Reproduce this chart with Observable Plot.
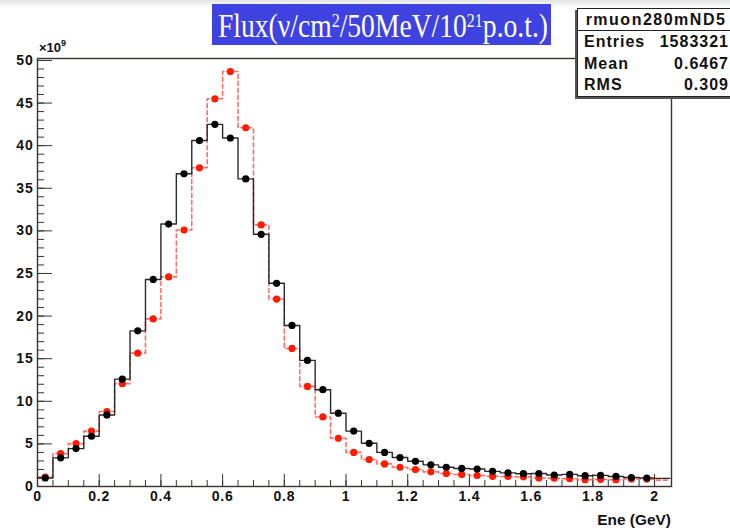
<!DOCTYPE html>
<html><head><meta charset="utf-8">
<script src="https://cdn.jsdelivr.net/npm/d3@7"></script>
<script src="https://cdn.jsdelivr.net/npm/@observablehq/plot@0.6"></script>
<style>
body{margin:0;background:#fff;}
#wrap{position:relative;width:730px;height:531px;overflow:hidden;font-family:"Liberation Sans",Arial,sans-serif;background:#fff;}
#topband{position:absolute;left:0;top:0;width:730px;height:7px;background:linear-gradient(#e2e2e2,#fff);}
#plot{position:absolute;left:0;top:0;}
#title{position:absolute;left:212px;top:4px;width:339px;height:41px;background:#3d42e0;color:#fff;font-family:"Liberation Serif","DejaVu Serif",serif;font-size:33px;line-height:45px;white-space:nowrap;overflow:visible;}
#title span{display:inline-block;transform-origin:left center;margin-left:6px;line-height:45px;height:41px;}
#title sup{font-size:0.58em;vertical-align:0.5em;line-height:0;}
#stats{position:absolute;left:577px;top:8px;width:156px;height:87px;background:#fff;border:1px solid #222;box-shadow:-2px 2px 0 #555;font-weight:bold;font-size:16px;color:#111;letter-spacing:1px;}
#stats .hdr{height:21px;border-bottom:1px solid #222;text-align:center;line-height:22px;letter-spacing:1.5px;}
#stats .row{height:21.5px;display:flex;justify-content:space-between;padding:0 5px 0 6px;line-height:21.5px;}
#expo{position:absolute;left:39px;top:40px;font-size:13px;font-weight:bold;color:#111;}
#expo sup{font-size:9px;vertical-align:6px;line-height:0;}
#xlab{position:absolute;right:59px;top:512px;font-size:14px;font-weight:bold;color:#111;transform:scaleX(1.1);transform-origin:right center;}
</style>
</head><body>
<div id="wrap">
  <div id="topband"></div>
  <div id="plot"></div>
  <div id="expo">×10<sup>9</sup></div>
  <div id="xlab">Ene (GeV)</div>
  <div id="title"><span>Flux(ν/cm<sup>2</sup>/50MeV/10<sup>21</sup>p.o.t.)</span></div>
  <div id="stats">
    <div class="hdr">rmuon280mND5</div>
    <div class="row"><span>Entries</span><span>1583321</span></div>
    <div class="row"><span>Mean</span><span>0.6467</span></div>
    <div class="row"><span>RMS</span><span>0.309</span></div>
  </div>
</div>
<script>
// Energy bin centres (GeV), 50 MeV bins
const binCenters = [0.025,0.075,0.125,0.175,0.225,0.275,0.325,0.375,0.425,0.475,
  0.525,0.575,0.625,0.675,0.725,0.775,0.825,0.875,0.925,0.975,
  1.025,1.075,1.125,1.175,1.225,1.275,1.325,1.375,1.425,1.475,
  1.525,1.575,1.625,1.675,1.725,1.775,1.825,1.875,1.925,1.975,2.025];
const binWidth = 0.05;
// Flux (x10^9) – black solid histogram
const fluxBlack = [1.0,3.36,4.45,5.9,8.4,12.6,18.27,24.3,30.8,36.7,
  40.6,42.5,40.9,36.1,29.6,23.85,18.9,14.8,11.36,8.6,
  6.5,5.07,4.0,3.4,2.96,2.54,2.26,2.12,2.05,1.78,
  1.6,1.5,1.52,1.35,1.42,1.27,1.3,1.18,1.05,1.0,0.95];
// Flux (x10^9) – red dashed histogram
const fluxRed = [1.1,3.86,5.03,6.5,8.8,12.06,15.65,19.67,24.6,30.1,
  37.4,45.5,48.7,42.1,30.7,22.0,16.2,11.75,8.16,5.66,
  4.0,3.16,2.65,2.26,1.99,1.72,1.52,1.4,1.29,1.2,
  1.18,1.13,1.0,0.98,0.92,0.8,0.84,0.8,0.88,0.87,0.75];
const xMajorTicks = [0,0.2,0.4,0.6,0.8,1,1.2,1.4,1.6,1.8,2];
const xMinorTicks = [0,0.05,0.1,0.15,0.2,0.25,0.3,0.35,0.4,0.45,0.5,0.55,0.6,0.65,0.7,0.75,0.8,0.85,0.9,0.95,1,
  1.05,1.1,1.15,1.2,1.25,1.3,1.35,1.4,1.45,1.5,1.55,1.6,1.65,1.7,1.75,1.8,1.85,1.9,1.95,2];
const yMajorTicks = [0,5,10,15,20,25,30,35,40,45,50];
const yMinorTicks = d3.range(0,51,1);
const nMarkers = 40; // last bin drawn without marker

function steps(vals){
  const pts = binCenters.map((c,i)=>({x:c-binWidth/2,y:vals[i]}));
  pts.push({x:binCenters[binCenters.length-1]+binWidth/2,y:vals[vals.length-1]});
  return pts;
}
const pointsBlack = binCenters.map((c,i)=>({x:c,y:fluxBlack[i]})).slice(0,nMarkers);
const pointsRed = binCenters.map((c,i)=>({x:c,y:fluxRed[i]})).slice(0,nMarkers);
const fmt = d => d===0 ? "0" : String(+d.toFixed(1));

const chart = Plot.plot({
  width:730, height:531,
  marginLeft:37, marginRight:59, marginTop:58, marginBottom:45,
  x:{domain:[0,2.055]},
  y:{domain:[0,50.23]},
  style:{fontFamily:"Liberation Sans, Arial, sans-serif",fontWeight:"bold",fontSize:"14px",color:"#111",background:"transparent",letterSpacing:"0.8px"},
  marks:[
    Plot.axisX({ticks:xMinorTicks, tickSize:-6, fill:"none", stroke:"#333", label:null}),
    Plot.axisX({ticks:xMajorTicks, tickSize:-12, fill:"none", stroke:"#333", label:null}),
    Plot.axisX({ticks:xMajorTicks, tickSize:0, tickPadding:5, tickFormat:fmt, label:null}),
    Plot.axisY({ticks:yMinorTicks, tickSize:-7, fill:"none", stroke:"#333", label:null}),
    Plot.axisY({ticks:yMajorTicks, tickSize:-15, fill:"none", stroke:"#333", label:null}),
    Plot.axisY({ticks:yMajorTicks, tickSize:0, tickPadding:4, tickFormat:d=>String(d), label:null}),
    Plot.line(steps(fluxRed), {x:"x", y:"y", curve:"step-after", stroke:"#ff4a40", strokeWidth:1.6, strokeDasharray:"4,3", strokeOpacity:0.8}),
    Plot.line(steps(fluxBlack), {x:"x", y:"y", curve:"step-after", stroke:"#2a2a2a", strokeWidth:1.4}),
    Plot.dot(pointsRed, {x:"x", y:"y", r:3.6, fill:"#ff1a00", stroke:"none"}),
    Plot.dot(pointsBlack, {x:"x", y:"y", r:3.6, fill:"#000", stroke:"none"}),
    Plot.frame({stroke:"#3d3030", strokeWidth:1.4})
  ]
});
document.getElementById("plot").appendChild(chart);

// fit the title text width
const tspan = document.querySelector("#title span");
const w = tspan.getBoundingClientRect().width;
tspan.style.transform = `scaleX(${330/w})`;
</script>
</body></html>
